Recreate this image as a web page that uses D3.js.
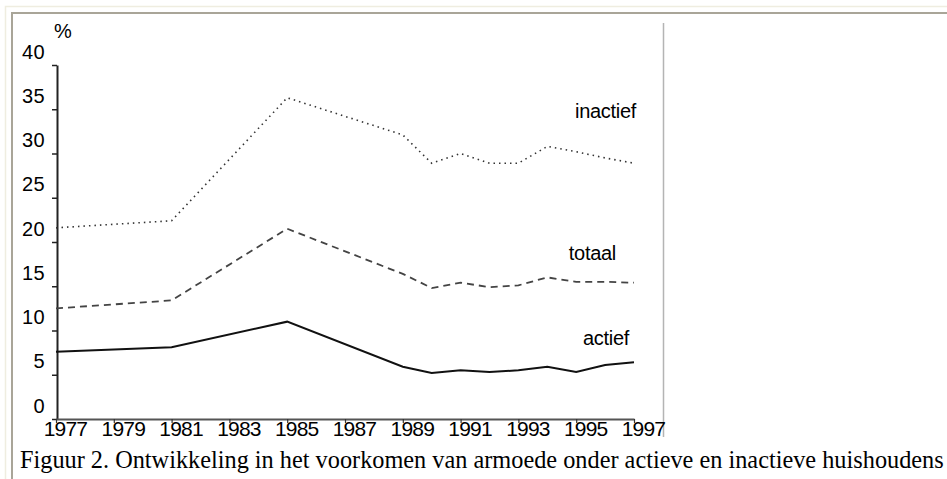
<!DOCTYPE html>
<html>
<head>
<meta charset="utf-8">
<script src="https://cdn.jsdelivr.net/npm/d3@7"></script>
<style>
  html, body { margin: 0; padding: 0; background: #fff; }
  svg { display: block; }
</style>
</head>
<body>
<svg id="chart" width="947" height="479"></svg>
<script>
// ---- data ----
const years = [1977, 1981, 1985, 1989, 1990, 1991, 1992, 1993, 1994, 1995, 1996, 1997];
const inactief = [21.6, 22.4, 36.3, 32.1, 28.9, 30.0, 28.9, 28.9, 30.8, 30.2, 29.5, 28.9];
const totaal   = [12.5, 13.4, 21.5, 16.4, 14.8, 15.4, 14.9, 15.1, 16.0, 15.5, 15.5, 15.4];
const actief   = [7.6, 8.1, 11.0, 5.9, 5.2, 5.5, 5.3, 5.5, 5.9, 5.3, 6.1, 6.4];
const xTickYears = [1977, 1979, 1981, 1983, 1985, 1987, 1989, 1991, 1993, 1995, 1997];
const yTickValues = [0, 5, 10, 15, 20, 25, 30, 35, 40];
const seriesNames = ["inactief", "totaal", "actief"];
const caption = "Figuur 2. Ontwikkeling in het voorkomen van armoede onder actieve en inactieve huishoudens";

const svg = d3.select("#chart");
const sans = "'Liberation Sans', Arial, sans-serif";

// frame
svg.append("path").attr("d", "M5.5,479 V6.5 H947").attr("fill", "none")
  .attr("stroke", "#efede0").attr("stroke-width", 1.5);
svg.append("path").attr("d", "M12,479 V13 H947").attr("fill", "none")
  .attr("stroke", "#a9a598").attr("stroke-width", 2);
svg.append("line").attr("x1", 663.5).attr("x2", 663.5).attr("y1", 23).attr("y2", 437)
  .attr("stroke", "#b4b4b4").attr("stroke-width", 1.5);

// scales
const x = d3.scaleLinear().domain([1977, 1997]).range([56, 634]);
const y = d3.scaleLinear().domain([0, 40]).range([419, 65]);

// y axis
const yAxis = d3.axisLeft(y).tickValues(yTickValues).tickSize(5).tickSizeOuter(0).tickFormat(d3.format("d"));
const gy = svg.append("g").attr("transform", "translate(57,0)").call(yAxis);
gy.select(".domain").attr("stroke", "#222").attr("stroke-width", 2);
gy.selectAll(".tick line").attr("stroke", "#222").attr("stroke-width", 1.5);
gy.selectAll(".tick text")
  .attr("x", -12).attr("dy", "0.35em")
  .attr("transform", "translate(0,-14)")
  .style("font-family", sans)
  .style("font-size", "20px").attr("fill", "#000")
  .style("letter-spacing", "0.4px");

// x axis
const xAxis = d3.axisBottom(x).tickValues(xTickYears).tickSize(4).tickSizeOuter(0).tickFormat(d3.format("d"));
const gx = svg.append("g").attr("transform", "translate(0,419)").call(xAxis);
gx.select(".domain").attr("stroke", "#555").attr("stroke-width", 2);
gx.selectAll(".tick line").attr("stroke", "#333").attr("stroke-width", 1.2);
gx.selectAll(".tick text")
  .attr("y", 2).attr("dy", "0.71em").attr("dx", 9)
  .style("font-family", sans)
  .style("font-size", "21px").attr("fill", "#000")
  .style("letter-spacing", "-0.8px");

// % label
svg.append("text").attr("x", 54).attr("y", 38).text("%")
  .style("font-family", sans)
  .style("font-size", "20px").attr("fill", "#000");

// lines
const line = d3.line().x((d, i) => x(years[i])).y(d => y(d));
svg.append("path").datum(inactief).attr("d", line).attr("fill", "none")
  .attr("stroke", "#333").attr("stroke-width", 1.6).attr("stroke-dasharray", "1.5,4");
svg.append("path").datum(totaal).attr("d", line).attr("fill", "none")
  .attr("stroke", "#444").attr("stroke-width", 1.8).attr("stroke-dasharray", "7,5");
svg.append("path").datum(actief).attr("d", line).attr("fill", "none")
  .attr("stroke", "#111").attr("stroke-width", 2);

// series labels
const labelPos = [ {x: 636, y: 118}, {x: 616, y: 260}, {x: 629, y: 345} ];
seriesNames.forEach((n, i) => {
  svg.append("text").attr("x", labelPos[i].x).attr("y", labelPos[i].y)
    .attr("text-anchor", "end").text(n)
    .style("font-family", sans)
    .style("font-size", "20px").style("letter-spacing", "-0.3px").attr("fill", "#000");
});

// caption
svg.append("text").attr("x", 20).attr("y", 468).text(caption)
  .style("font-family", "'Liberation Serif', 'Times New Roman', serif")
  .style("font-size", "24.3px").attr("fill", "#000");
</script>
</body>
</html>
